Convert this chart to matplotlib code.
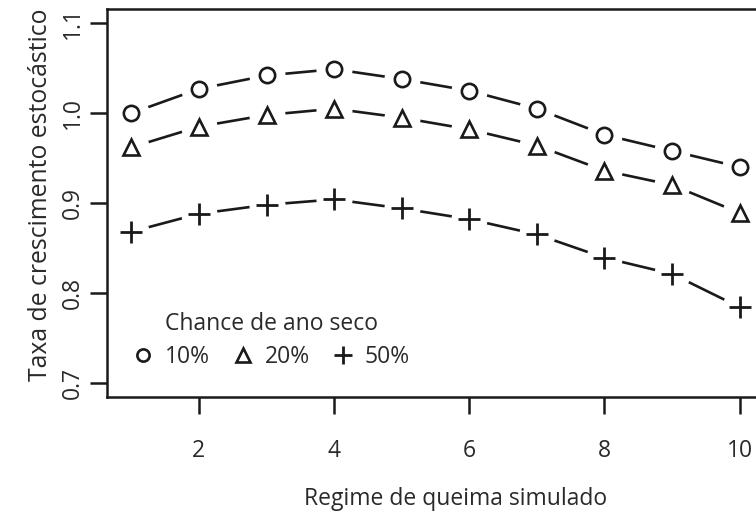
import matplotlib
matplotlib.use("Agg")
import matplotlib.pyplot as plt
from matplotlib.lines import Line2D

plt.rcParams['font.family'] = ['Open Sans', 'DejaVu Sans']

# Fire regime (x) and stochastic growth rate for each dry-year chance
regime = [1, 2, 3, 4, 5, 6, 7, 8, 9, 10]
rate_10 = [1.000, 1.027, 1.042, 1.049, 1.038, 1.025, 1.005, 0.976, 0.958, 0.940]
rate_20 = [0.962, 0.985, 0.998, 1.005, 0.995, 0.982, 0.964, 0.936, 0.920, 0.889]
rate_50 = [0.868, 0.888, 0.898, 0.904, 0.894, 0.882, 0.865, 0.839, 0.821, 0.784]

series_labels = ['10%', '20%', '50%']
legend_title = 'Chance de ano seco'
x_label = 'Regime de queima simulado'
y_label = 'Taxa de crescimento estocástico'
x_ticks = [2, 4, 6, 8, 10]
y_ticks = [0.7, 0.8, 0.9, 1.0, 1.1]

ink = '#1a1a1a'
text_col = '#2a2a2a'
fs = 16.5
dpi = 100
fig = plt.figure(figsize=(7.56, 5.22), dpi=dpi)
ax = fig.add_axes([107 / 756, 125 / 522, 657 / 756, 388 / 522])

markers = [
    dict(marker='o', ms=11, mew=1.9, mfc='none'),
    dict(marker='^', ms=12, mew=1.9, mfc='none'),
    dict(marker='+', ms=16, mew=2.0),
]
all_series = [rate_10, rate_20, rate_50]

# connecting lines (R type="b": lines broken around each point)
for ys in all_series:
    ax.plot(regime, ys, color=ink, lw=1.9, zorder=2, solid_capstyle='butt')
for ys in all_series:
    ax.plot(regime, ys, ls='none', marker='o', ms=26, mfc='white', mec='none', zorder=3)
for ys, mk in zip(all_series, markers):
    ax.plot(regime, ys, ls='none', color=ink, mec=ink, zorder=4, **mk)

ax.set_xlim(0.64, 10.36)
ax.set_ylim(0.684, 1.116)
ax.set_xticks(x_ticks)
ax.set_xticklabels([str(t) for t in x_ticks])
ax.set_yticks(y_ticks)
ax.set_yticklabels([f'{t:.1f}' for t in y_ticks], rotation=90, va='center')

for s in ax.spines.values():
    s.set_linewidth(1.8)
    s.set_color(ink)
ax.tick_params(axis='both', length=12, width=1.8, color=ink, labelsize=fs,
               labelcolor=text_col)
ax.tick_params(axis='x', pad=18)
ax.tick_params(axis='y', pad=4)

ax.set_xlabel(x_label, fontsize=fs, color=text_col)
ax.set_ylabel(y_label, fontsize=17.8, color=text_col)
ax.xaxis.set_label_coords(0.531, -0.232)
ax.yaxis.set_label_coords(-0.082, 0.52)

handles = [Line2D([], [], ls='none', color=ink, mec=ink, **mk) for mk in markers]
for h in handles:
    h.set_markersize(h.get_markersize() * 0.8)
leg = ax.legend(handles, series_labels, title=legend_title, ncol=3, frameon=False,
                loc='lower left', bbox_to_anchor=(121 / 756, 142 / 522),
                bbox_transform=fig.transFigure, borderpad=0, handlelength=0.9,
                handletextpad=0.5, columnspacing=1.0, fontsize=fs,
                title_fontsize=fs, labelcolor=text_col, labelspacing=0.3)
leg._legend_box.sep = 6
leg.get_title().set_color(text_col)

fig.savefig('out.png', dpi=dpi)
